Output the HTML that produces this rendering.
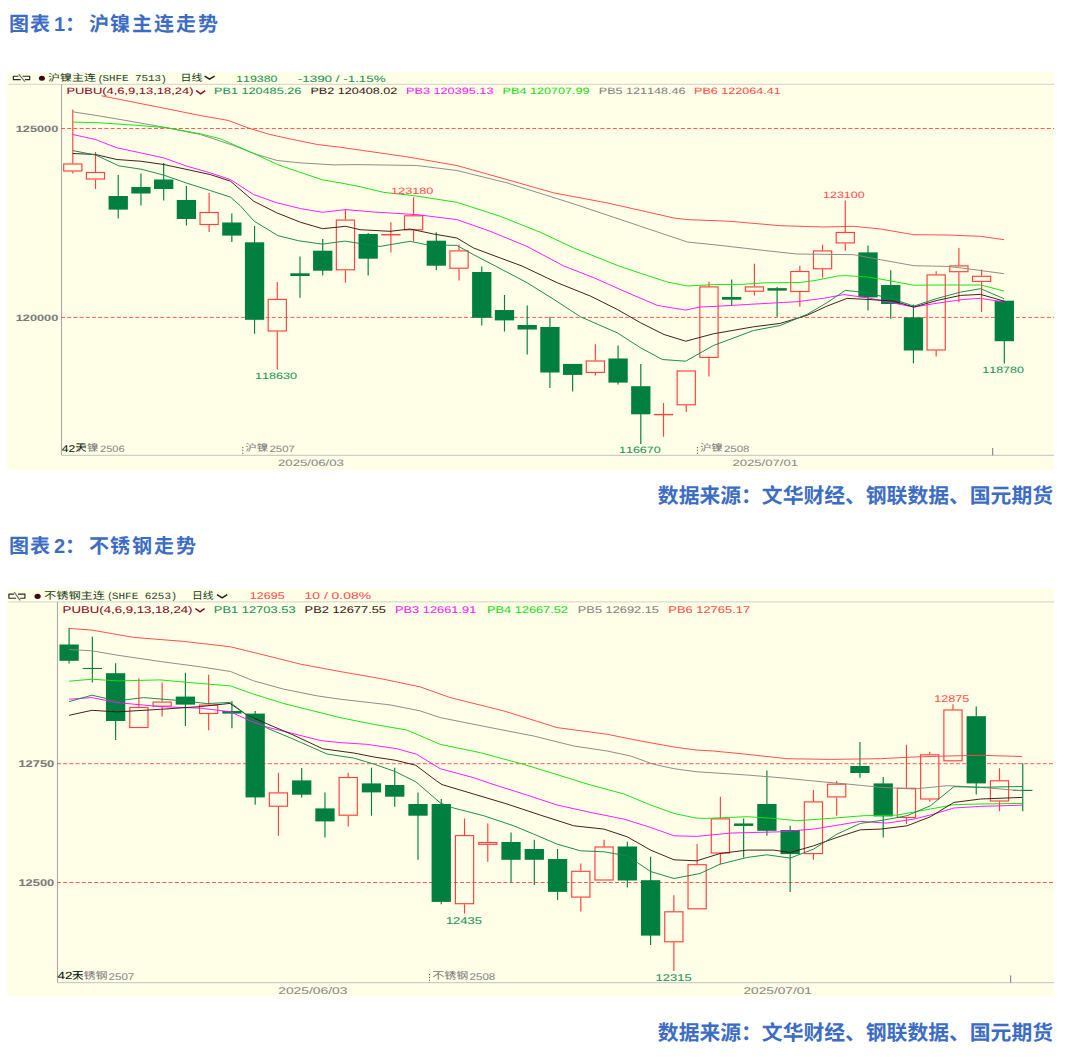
<!DOCTYPE html>
<html lang="zh-CN">
<head>
<meta charset="utf-8">
<title>图表：沪镍主连走势 / 不锈钢走势</title>
<style>
html,body{margin:0;padding:0;background:#ffffff;}
body{width:1066px;height:1060px;position:relative;overflow:hidden;font-family:"Liberation Sans","Noto Sans CJK SC",sans-serif;}
figure{margin:0;padding:0;position:absolute;left:0;width:1066px;}
svg{position:absolute;left:0;display:block;overflow:visible;}
svg text{font-family:"Liberation Sans","Noto Sans CJK SC",sans-serif;white-space:pre;text-rendering:geometricPrecision;font-kerning:none;font-variant-ligatures:none;}
svg text.mono{font-family:"Liberation Mono","Noto Sans CJK SC",monospace;}
.sr{position:absolute;left:0;top:0;width:1px;height:1px;overflow:hidden;color:transparent;font-size:1px;line-height:1px;}
</style>
</head>
<body>

<figure id="fig1" style="top:0;height:530px">
<h3 class="sr">图表 1：沪镍主连走势</h3>
<svg class="title" style="top:0" width="1066" height="66" viewBox="0 0 1066 66" role="img" aria-label="图表 1：沪镍主连走势">
<text y="31" font-size="20" font-weight="bold" fill="#3d6dc3"><tspan x="9">图</tspan><tspan x="30">表</tspan><tspan x="54">1</tspan><tspan x="65">：</tspan><tspan x="89">沪</tspan><tspan x="110">镍</tspan><tspan x="132">主</tspan><tspan x="154">连</tspan><tspan x="176">走</tspan><tspan x="198">势</tspan></text>
</svg>
<svg class="chart" style="top:66px" width="1066" height="410" viewBox="0 66 1066 410" role="img" aria-label="沪镍主连 日线">
<rect x="7" y="72.8" width="1047" height="397.2" fill="#fffee6"/>
<path stroke="#d2d2ce" stroke-width="1" d="M8.5,84.3 H1054"/>
<path stroke="#a9a9b0" stroke-width="1.1" fill="none" d="M61.5,84.3 V455.3"/>
<path stroke="#c2c2c2" stroke-width="1" fill="none" d="M61.5,455.3 H1054"/>
<path stroke="#ff4040" stroke-width="1" stroke-dasharray="4 2.2" stroke-opacity="0.85" fill="none" d="M61,128.5 H1054"/>
<text transform="translate(15.8 131.6) scale(1.3844 1)" font-size="9.2" fill="#7c7c7c" stroke="#7c7c7c" stroke-width="0.06" font-weight="bold">125000</text>
<path stroke="#ff4040" stroke-width="1" stroke-dasharray="4 2.2" stroke-opacity="0.85" fill="none" d="M61,317.4 H1054"/>
<text transform="translate(15.8 320.5) scale(1.3844 1)" font-size="9.2" fill="#7c7c7c" stroke="#7c7c7c" stroke-width="0.06" font-weight="bold">120000</text>
<path stroke="#ff4040" stroke-width="1.15" fill="none" d="M72.8,109.4 V163.5M72.8,171.5 V173.5"/>
<rect x="63.7" y="164" width="18.2" height="7" fill="none" stroke="#ff4040" stroke-width="1.15"/>
<path stroke="#ff4040" stroke-width="1.15" fill="none" d="M95.52,152 V172M95.52,179.5 V189"/>
<rect x="86.42" y="172.5" width="18.2" height="6.5" fill="none" stroke="#ff4040" stroke-width="1.15"/>
<path stroke="#007f3f" stroke-width="1.15" fill="none" d="M118.24,175 V218.6"/>
<rect x="108.59" y="196" width="19.3" height="13.6" fill="#007f3f"/>
<path stroke="#007f3f" stroke-width="1.15" fill="none" d="M140.96,173.5 V205.6"/>
<rect x="131.31" y="187" width="19.3" height="6.5" fill="#007f3f"/>
<path stroke="#007f3f" stroke-width="1.15" fill="none" d="M163.68,163 V200.5"/>
<rect x="154.03" y="179.5" width="19.3" height="9.5" fill="#007f3f"/>
<path stroke="#007f3f" stroke-width="1.15" fill="none" d="M186.4,186 V225.6"/>
<rect x="176.75" y="200" width="19.3" height="19" fill="#007f3f"/>
<path stroke="#ff4040" stroke-width="1.15" fill="none" d="M209.12,193 V212M209.12,225 V232"/>
<rect x="200.02" y="212.5" width="18.2" height="12" fill="none" stroke="#ff4040" stroke-width="1.15"/>
<path stroke="#007f3f" stroke-width="1.15" fill="none" d="M231.84,213.5 V242"/>
<rect x="222.19" y="222.5" width="19.3" height="13.1" fill="#007f3f"/>
<path stroke="#007f3f" stroke-width="1.15" fill="none" d="M254.56,226 V333.8"/>
<rect x="244.91" y="242.3" width="19.3" height="77.5" fill="#007f3f"/>
<path stroke="#ff4040" stroke-width="1.15" fill="none" d="M277.28,282 V298.9M277.28,331.5 V369.5"/>
<rect x="268.18" y="299.4" width="18.2" height="31.6" fill="none" stroke="#ff4040" stroke-width="1.15"/>
<path stroke="#007f3f" stroke-width="1.15" fill="none" d="M300,256.4 V297.7"/>
<rect x="290.35" y="273.3" width="19.3" height="2.7" fill="#007f3f"/>
<path stroke="#007f3f" stroke-width="1.15" fill="none" d="M322.72,239 V275.4"/>
<rect x="313.07" y="250.7" width="19.3" height="20" fill="#007f3f"/>
<path stroke="#ff4040" stroke-width="1.15" fill="none" d="M345.44,209 V219.6M345.44,270.3 V282.7"/>
<rect x="336.34" y="220.1" width="18.2" height="49.7" fill="none" stroke="#ff4040" stroke-width="1.15"/>
<path stroke="#007f3f" stroke-width="1.15" fill="none" d="M368.16,233 V275.4"/>
<rect x="358.51" y="234" width="19.3" height="24.7" fill="#007f3f"/>
<path stroke="#ff4040" stroke-width="1.15" fill="none" d="M390.88,222.3 V252.4"/>
<path stroke="#ff4040" stroke-width="1.4" fill="none" d="M381.23,234.7 H400.53"/>
<path stroke="#ff4040" stroke-width="1.15" fill="none" d="M413.6,197.3 V215.3M413.6,230.3 V241.3"/>
<rect x="404.5" y="215.8" width="18.2" height="14" fill="none" stroke="#ff4040" stroke-width="1.15"/>
<path stroke="#007f3f" stroke-width="1.15" fill="none" d="M436.32,232.3 V270"/>
<rect x="426.67" y="240.7" width="19.3" height="25" fill="#007f3f"/>
<path stroke="#ff4040" stroke-width="1.15" fill="none" d="M459.04,244.7 V250.4M459.04,268.7 V280.4"/>
<rect x="449.94" y="250.9" width="18.2" height="17.3" fill="none" stroke="#ff4040" stroke-width="1.15"/>
<path stroke="#007f3f" stroke-width="1.15" fill="none" d="M481.76,266.4 V325.5"/>
<rect x="472.11" y="272" width="19.3" height="45.8" fill="#007f3f"/>
<path stroke="#007f3f" stroke-width="1.15" fill="none" d="M504.48,295 V331.5"/>
<rect x="494.83" y="310" width="19.3" height="10.4" fill="#007f3f"/>
<path stroke="#007f3f" stroke-width="1.15" fill="none" d="M527.2,305.4 V354.5"/>
<rect x="517.55" y="325" width="19.3" height="4.5" fill="#007f3f"/>
<path stroke="#007f3f" stroke-width="1.15" fill="none" d="M549.92,316.8 V388"/>
<rect x="540.27" y="327" width="19.3" height="45.5" fill="#007f3f"/>
<path stroke="#007f3f" stroke-width="1.15" fill="none" d="M572.64,363.9 V391.6"/>
<rect x="562.99" y="363.9" width="19.3" height="11" fill="#007f3f"/>
<path stroke="#ff4040" stroke-width="1.15" fill="none" d="M595.36,344.2 V360.5M595.36,372.9 V375.6"/>
<rect x="586.26" y="361" width="18.2" height="11.4" fill="none" stroke="#ff4040" stroke-width="1.15"/>
<path stroke="#007f3f" stroke-width="1.15" fill="none" d="M618.08,345.5 V384.6"/>
<rect x="608.43" y="358.5" width="19.3" height="24.1" fill="#007f3f"/>
<path stroke="#007f3f" stroke-width="1.15" fill="none" d="M640.8,363.9 V444"/>
<rect x="631.15" y="386.2" width="19.3" height="28.1" fill="#007f3f"/>
<path stroke="#ff4040" stroke-width="1.15" fill="none" d="M663.52,403 V436.7"/>
<path stroke="#ff4040" stroke-width="1.4" fill="none" d="M653.87,414.6 H673.17"/>
<path stroke="#ff4040" stroke-width="1.15" fill="none" d="M686.24,405.3 V412"/>
<rect x="677.14" y="371" width="18.2" height="33.8" fill="none" stroke="#ff4040" stroke-width="1.15"/>
<path stroke="#ff4040" stroke-width="1.15" fill="none" d="M708.96,281.7 V286.4M708.96,357.9 V376.6"/>
<rect x="699.86" y="286.9" width="18.2" height="70.5" fill="none" stroke="#ff4040" stroke-width="1.15"/>
<path stroke="#007f3f" stroke-width="1.15" fill="none" d="M731.68,279.4 V305.4"/>
<rect x="722.03" y="297" width="19.3" height="2.7" fill="#007f3f"/>
<path stroke="#ff4040" stroke-width="1.15" fill="none" d="M754.4,263.7 V286.4M754.4,291.7 V295.4"/>
<rect x="745.3" y="286.9" width="18.2" height="4.3" fill="none" stroke="#ff4040" stroke-width="1.15"/>
<path stroke="#007f3f" stroke-width="1.15" fill="none" d="M777.12,287 V316.8"/>
<path stroke="#007f3f" stroke-width="2.5" fill="none" d="M767.47,289.4 H786.77"/>
<path stroke="#ff4040" stroke-width="1.15" fill="none" d="M799.84,265.7 V271M799.84,292 V306.7"/>
<rect x="790.74" y="271.5" width="18.2" height="20" fill="none" stroke="#ff4040" stroke-width="1.15"/>
<path stroke="#ff4040" stroke-width="1.15" fill="none" d="M822.56,244.7 V250.4M822.56,269.3 V277.7"/>
<rect x="813.46" y="250.9" width="18.2" height="17.9" fill="none" stroke="#ff4040" stroke-width="1.15"/>
<path stroke="#ff4040" stroke-width="1.15" fill="none" d="M845.28,200.6 V232M845.28,243.4 V250.7"/>
<rect x="836.18" y="232.5" width="18.2" height="10.4" fill="none" stroke="#ff4040" stroke-width="1.15"/>
<path stroke="#007f3f" stroke-width="1.15" fill="none" d="M868,245.4 V310.4"/>
<rect x="858.35" y="252.4" width="19.3" height="45" fill="#007f3f"/>
<path stroke="#007f3f" stroke-width="1.15" fill="none" d="M890.72,270.3 V318.8"/>
<rect x="881.07" y="285" width="19.3" height="19" fill="#007f3f"/>
<path stroke="#007f3f" stroke-width="1.15" fill="none" d="M913.44,304.5 V363.4"/>
<rect x="903.79" y="317.4" width="19.3" height="33.1" fill="#007f3f"/>
<path stroke="#ff4040" stroke-width="1.15" fill="none" d="M936.16,271.3 V274.4M936.16,350.5 V356.6"/>
<rect x="927.06" y="274.9" width="18.2" height="75.1" fill="none" stroke="#ff4040" stroke-width="1.15"/>
<path stroke="#ff4040" stroke-width="1.15" fill="none" d="M958.88,248 V265.4M958.88,272.2 V302.3"/>
<rect x="949.78" y="265.9" width="18.2" height="5.8" fill="none" stroke="#ff4040" stroke-width="1.15"/>
<path stroke="#ff4040" stroke-width="1.15" fill="none" d="M981.6,269.4 V275.8M981.6,281.9 V312"/>
<rect x="972.5" y="276.3" width="18.2" height="5.1" fill="none" stroke="#ff4040" stroke-width="1.15"/>
<path stroke="#007f3f" stroke-width="1.15" fill="none" d="M1004.32,300.7 V363.4"/>
<rect x="994.67" y="300.7" width="19.3" height="40.5" fill="#007f3f"/>
<polyline fill="none" stroke="#ff4646" stroke-width="0.95" stroke-linejoin="round" points="101.6,95.8 132.2,101.9 166,108.6 198.1,115.1 228.5,120.5 248.7,128.1 270,134.5 283.9,137.6 317.3,144.5 340,147.2 406.8,156.8 456.9,165.5 507,179.6 553.8,192.9 607.2,202.9 674,218 687.4,219.6 730.1,221.3 780.2,225.7 823.6,227 853.7,226.3 880.4,229 913.8,234.7 947.2,235 980.6,236.3 1004,239.7"/>
<polyline fill="none" stroke="#888888" stroke-width="0.95" stroke-linejoin="round" points="72.8,111.8 100.2,116.1 133.6,121.8 167,127.8 200.4,134.5 233.8,145.5 253.8,153.5 277.2,160.5 300.6,162.9 334,164.9 356,164.6 416.8,165.5 456.9,170.5 507,182.9 573.8,203.9 640.6,226.3 687.4,242 720.1,245.4 763.5,250.4 796.9,254 853.7,254.7 880.4,259.7 913.8,265.7 947.2,266.4 967.2,268.7 1004,273.7"/>
<polyline fill="none" stroke="#10e010" stroke-width="0.95" stroke-linejoin="round" points="72.8,122.1 100.2,122.8 133.6,125.1 167,127.8 200.4,133.8 220.4,138.8 253.8,153.5 277.8,164.7 298.8,171.9 322.4,179.8 344.8,183.7 360,186.7 383.4,192.3 413.5,195.6 456.9,202.3 500.3,216.3 540.4,232.3 573.8,248 618.9,266 640.6,273.3 667.3,282 687.4,286 713.4,284.6 743,284.3 766,282.8 800,282.5 815,280.5 837.5,276 845.3,275.6 867,277 878.8,278.8 913.8,285.2 947.2,285 980.6,285 1004,291"/>
<polyline fill="none" stroke="#ff10ff" stroke-width="0.95" stroke-linejoin="round" points="72.8,134.5 95.5,139.5 116.9,147.8 140.3,152.8 163.7,157.9 187,166.2 210.4,172.9 230.5,179.6 253.8,194.6 277.2,202.9 300.6,208.6 322.6,212.3 345.7,209.6 373.4,212 416.8,214.6 456.9,219.6 490.3,231.3 527,246.4 563.8,266 593.8,277.7 623.9,291.1 657.3,305.4 685.7,310.1 700,307 715,306.4 746.8,304.5 796.9,301.7 823.6,298.3 843.7,294.6 867,297.7 913.8,307.1 933.8,303.7 963.9,299.4 980.6,298.4 1004,302.1"/>
<polyline fill="none" stroke="#3a1418" stroke-width="0.95" stroke-linejoin="round" points="72.8,153.5 95.5,154.5 116.9,159.5 140.3,161.2 163.7,164.5 187,169.5 210.4,174.6 230.5,181.2 253.8,201.3 277.2,213 300.6,222.3 322.6,228.7 345.7,226.3 360,229.7 390.1,231.3 410.1,229 433.5,234 456.9,238 473.6,248 500.3,258 522,266 557.1,282.7 590.5,296.1 617.2,309.4 640.6,322.8 664,334.5 685.7,341.2 713.4,333.8 753.5,326.8 780.2,323.4 806.9,315.4 827,306.1 847,298.4 867,299.4 893.8,301.1 913.8,307.1 937.2,300.4 960.6,295.4 980.6,294.4 1004,301.1"/>
<polyline fill="none" stroke="#12864f" stroke-width="0.95" stroke-linejoin="round" points="72.8,150.6 95.5,155 119.1,165.9 141,169.2 163.8,175.1 186.6,183.1 209.4,190.3 230.5,197.1 240,205.5 254.1,221.1 277.8,235.6 298.8,240.8 322.4,244.1 344.8,241.1 360,243.5 380.1,246.4 410.1,241.3 426.8,244.7 456.9,245.4 473.6,254.7 495.3,266 527,282.7 553.8,299.4 580.5,316.8 617.2,332.8 640.6,347.8 662.3,359.5 685.7,361.2 713.4,345.5 753.5,330.5 780.2,325.5 806.9,314.4 827,302.7 845.3,290.4 867,292.7 893.8,299.4 913.8,306.1 937.2,298.4 960.6,292.1 980.6,288.7 1004,298.7"/>
<path fill="none" stroke="#262626" stroke-width="1.15" stroke-linejoin="round" d="M18.5,76.2 H13.35 V79.65 H20.71 M22.59,76.2 H29.7 V79.65 H24.88"/><path fill="none" stroke="#6a6a6a" stroke-width="1.15" d="M18.75,74.2 L24.88,81.75"/>
<ellipse cx="41.9" cy="78.2" rx="3" ry="2.5" fill="#3c0712"/>
<text transform="translate(48 81.2) scale(1.26 1)" font-size="9.5" fill="#163a1a">沪镍主连</text>
<text transform="translate(98.8 81.5) scale(1.0115 1)" font-size="9.5" fill="#1a3a22" stroke="#1a3a22" stroke-width="0.06">(</text>
<text transform="translate(102.6 81.3) scale(1.2015 1)" font-size="9" fill="#2c4a34" stroke="#2c4a34" stroke-width="0.06" class="mono">SHFE 7513</text>
<text transform="translate(162.2 81.5) scale(1.0747 1)" font-size="9.5" fill="#1a3a22" stroke="#1a3a22" stroke-width="0.06">)</text>
<text transform="translate(180.5 81.2) scale(1.15 1)" font-size="9.5" fill="#163a1a">日线</text>
<polyline fill="none" stroke="#1c1c1c" stroke-width="1.5" points="204.6,76.2 209.6,79.2 214.6,76.2"/>
<text transform="translate(236.1 81.7) scale(1.3486 1)" font-size="9.2" fill="#23935a" stroke="#23935a" stroke-width="0.06">119380</text>
<text transform="translate(297.8 81.7) scale(1.4582 1)" font-size="9.2" fill="#23935a" stroke="#23935a" stroke-width="0.06">-1390 / -1.15%</text>
<text transform="translate(66.4 94.2) scale(1.4053 1)" font-size="9.2" fill="#8a0a2a" stroke="#8a0a2a" stroke-width="0.06">PUBU(4,6,9,13,18,24)</text>
<polyline fill="none" stroke="#8a0a2a" stroke-width="1.5" points="196.2,90.7 200.7,93.8 205.2,90.7"/>
<text transform="translate(214 94.2) scale(1.3778 1)" font-size="9.2" fill="#23935a" stroke="#23935a" stroke-width="0.06">PB1 120485.26</text>
<text transform="translate(310.4 94.2) scale(1.3731 1)" font-size="9.2" fill="#3a1a22" stroke="#3a1a22" stroke-width="0.06">PB2 120408.02</text>
<text transform="translate(406 94.2) scale(1.3810 1)" font-size="9.2" fill="#f51cf5" stroke="#f51cf5" stroke-width="0.06">PB3 120395.13</text>
<text transform="translate(502.6 94.2) scale(1.3699 1)" font-size="9.2" fill="#22dd22" stroke="#22dd22" stroke-width="0.06">PB4 120707.99</text>
<text transform="translate(598.8 94.2) scale(1.3699 1)" font-size="9.2" fill="#848484" stroke="#848484" stroke-width="0.06">PB5 121148.46</text>
<text transform="translate(694 94.2) scale(1.3683 1)" font-size="9.2" fill="#ff5050" stroke="#ff5050" stroke-width="0.06">PB6 122064.41</text>
<text transform="translate(254.9 378.9) scale(1.3746 1)" font-size="9.2" fill="#23935a" stroke="#23935a" stroke-width="0.06">118630</text>
<text transform="translate(391 194.2) scale(1.3844 1)" font-size="9.2" fill="#ff5050" stroke="#ff5050" stroke-width="0.06">123180</text>
<text transform="translate(619 453.2) scale(1.3583 1)" font-size="9.2" fill="#23935a" stroke="#23935a" stroke-width="0.06">116670</text>
<text transform="translate(823 197.5) scale(1.3583 1)" font-size="9.2" fill="#ff5050" stroke="#ff5050" stroke-width="0.06">123100</text>
<text transform="translate(982.3 373.1) scale(1.3583 1)" font-size="9.2" fill="#23935a" stroke="#23935a" stroke-width="0.06">118780</text>
<text transform="translate(75.5 451.3) scale(1.2 1)" font-size="9.5" fill="#787878">沪镍</text>
<text transform="translate(100 451.6) scale(1.2069 1)" font-size="9.2" fill="#8a8a8a" stroke="#8a8a8a" stroke-width="0.06">2506</text>
<text transform="translate(61.8 451.6) scale(1.2293 1)" font-size="9.8" fill="#0a1a0a" stroke="#0a1a0a" stroke-width="0.06">42</text>
<text transform="translate(75.3 451.3) scale(1.15 1)" font-size="9.8" fill="#0a1a0a">天</text>
<path stroke="#555" stroke-width="1" stroke-dasharray="1.2 1.6" d="M242.8,447 V455.3"/>
<text transform="translate(245.3 451.3) scale(1.2 1)" font-size="9.5" fill="#787878">沪镍</text>
<text transform="translate(269.5 451.6) scale(1.2459 1)" font-size="9.2" fill="#8a8a8a" stroke="#8a8a8a" stroke-width="0.06">2507</text>
<path stroke="#555" stroke-width="1" stroke-dasharray="1.2 1.6" d="M697.4,447 V455.3"/>
<text transform="translate(699.9 451.3) scale(1.2 1)" font-size="9.5" fill="#787878">沪镍</text>
<text transform="translate(724 451.6) scale(1.2459 1)" font-size="9.2" fill="#8a8a8a" stroke="#8a8a8a" stroke-width="0.06">2508</text>
<text transform="translate(278 465.6) scale(1.4334 1)" font-size="9.2" fill="#8a8a8a" stroke="#8a8a8a" stroke-width="0.06">2025/06/03</text>
<text transform="translate(732.4 465.6) scale(1.4290 1)" font-size="9.2" fill="#8a8a8a" stroke="#8a8a8a" stroke-width="0.06">2025/07/01</text>
<path stroke="#777" stroke-width="1" d="M992.7,448 V455.3"/>
</svg>
<figcaption class="sr">数据来源：文华财经、钢联数据、国元期货</figcaption>
<svg class="source" style="top:476px" width="1066" height="50" viewBox="0 476 1066 50" role="img" aria-label="数据来源：文华财经、钢联数据、国元期货">
<text x="1053" y="503.2" text-anchor="end" font-size="20.8" font-weight="bold" fill="#3d6dc3">数据来源：文华财经、钢联数据、国元期货</text>
</svg>
</figure>
<figure id="fig2" style="top:526px;height:534px">
<h3 class="sr">图表 2：不锈钢走势</h3>
<svg class="title" style="top:0" width="1066" height="56" viewBox="0 526 1066 56" role="img" aria-label="图表 2：不锈钢走势">
<text y="553" font-size="20" font-weight="bold" fill="#3d6dc3"><tspan x="9">图</tspan><tspan x="30">表</tspan><tspan x="54">2</tspan><tspan x="65">：</tspan><tspan x="89">不</tspan><tspan x="110">锈</tspan><tspan x="132">钢</tspan><tspan x="154">走</tspan><tspan x="176">势</tspan></text>
</svg>
<svg class="chart" style="top:56px" width="1066" height="420" viewBox="0 582 1066 420" role="img" aria-label="不锈钢主连 日线">
<rect x="7" y="588.6" width="1047" height="407.4" fill="#fffee6"/>
<path stroke="#d2d2ce" stroke-width="1" d="M8.5,601.9 H1054"/>
<path stroke="#a9a9b0" stroke-width="1.1" fill="none" d="M57.5,601.9 V982.7"/>
<path stroke="#c2c2c2" stroke-width="1" fill="none" d="M57.5,982.7 H1054"/>
<path stroke="#ff4040" stroke-width="1" stroke-dasharray="4 2.2" stroke-opacity="0.85" fill="none" d="M57,763.7 H1054"/>
<text transform="translate(18.4 766.8) scale(1.3174 1)" font-size="9.8" fill="#7c7c7c" stroke="#7c7c7c" stroke-width="0.06" font-weight="bold">12750</text>
<path stroke="#ff4040" stroke-width="1" stroke-dasharray="4 2.2" stroke-opacity="0.85" fill="none" d="M57,882.5 H1054"/>
<text transform="translate(18.4 885.6) scale(1.3174 1)" font-size="9.8" fill="#7c7c7c" stroke="#7c7c7c" stroke-width="0.06" font-weight="bold">12500</text>
<path stroke="#007f3f" stroke-width="1.15" fill="none" d="M69.1,628 V663.5"/>
<rect x="59.45" y="644.5" width="19.3" height="16.3" fill="#007f3f"/>
<path stroke="#007f3f" stroke-width="1.15" fill="none" d="M92.36,636.8 V682.5"/>
<path stroke="#007f3f" stroke-width="1.1" fill="none" d="M82.71,668.5 H102.01"/>
<path stroke="#007f3f" stroke-width="1.15" fill="none" d="M115.62,663.2 V740"/>
<rect x="105.97" y="673.2" width="19.3" height="47.8" fill="#007f3f"/>
<path stroke="#ff4040" stroke-width="1.15" fill="none" d="M138.88,678.2 V707"/>
<rect x="129.78" y="707.5" width="18.2" height="20" fill="none" stroke="#ff4040" stroke-width="1.15"/>
<path stroke="#ff4040" stroke-width="1.15" fill="none" d="M162.14,682.5 V701.6M162.14,706.6 V716.6"/>
<rect x="153.04" y="702.1" width="18.2" height="4" fill="none" stroke="#ff4040" stroke-width="1.15"/>
<path stroke="#007f3f" stroke-width="1.15" fill="none" d="M185.4,672.8 V726"/>
<rect x="175.75" y="696.6" width="19.3" height="8" fill="#007f3f"/>
<path stroke="#ff4040" stroke-width="1.15" fill="none" d="M208.66,674.8 V704.6M208.66,714 V730.3"/>
<rect x="199.56" y="705.1" width="18.2" height="8.4" fill="none" stroke="#ff4040" stroke-width="1.15"/>
<path stroke="#007f3f" stroke-width="1.15" fill="none" d="M231.92,701 V728.3"/>
<rect x="222.27" y="711" width="19.3" height="2.6" fill="#007f3f"/>
<path stroke="#007f3f" stroke-width="1.15" fill="none" d="M255.18,711 V804.7"/>
<rect x="245.53" y="713.6" width="19.3" height="83.8" fill="#007f3f"/>
<path stroke="#ff4040" stroke-width="1.15" fill="none" d="M278.44,772.7 V792.4M278.44,806.7 V835.8"/>
<rect x="269.34" y="792.9" width="18.2" height="13.3" fill="none" stroke="#ff4040" stroke-width="1.15"/>
<path stroke="#007f3f" stroke-width="1.15" fill="none" d="M301.7,768 V797.4"/>
<rect x="292.05" y="780.4" width="19.3" height="14.3" fill="#007f3f"/>
<path stroke="#007f3f" stroke-width="1.15" fill="none" d="M324.96,792.4 V837.4"/>
<rect x="315.31" y="808.4" width="19.3" height="13" fill="#007f3f"/>
<path stroke="#ff4040" stroke-width="1.15" fill="none" d="M348.22,772.7 V777M348.22,815.7 V826.4"/>
<rect x="339.12" y="777.5" width="18.2" height="37.7" fill="none" stroke="#ff4040" stroke-width="1.15"/>
<path stroke="#007f3f" stroke-width="1.15" fill="none" d="M371.48,767.7 V815.7"/>
<rect x="361.83" y="783.4" width="19.3" height="9" fill="#007f3f"/>
<path stroke="#007f3f" stroke-width="1.15" fill="none" d="M394.74,767.7 V806.7"/>
<rect x="385.09" y="785" width="19.3" height="11.7" fill="#007f3f"/>
<path stroke="#007f3f" stroke-width="1.15" fill="none" d="M418,792.4 V859.8"/>
<rect x="408.35" y="804" width="19.3" height="11.7" fill="#007f3f"/>
<path stroke="#007f3f" stroke-width="1.15" fill="none" d="M441.26,799 V904.2"/>
<rect x="431.61" y="804" width="19.3" height="97.9" fill="#007f3f"/>
<path stroke="#ff4040" stroke-width="1.15" fill="none" d="M464.52,818.4 V835.1M464.52,904.2 V913.6"/>
<rect x="455.42" y="835.6" width="18.2" height="68.1" fill="none" stroke="#ff4040" stroke-width="1.15"/>
<path stroke="#ff4040" stroke-width="1.15" fill="none" d="M487.78,823.4 V842M487.78,844.8 V861.8"/>
<rect x="478.68" y="842.5" width="18.2" height="1.8" fill="none" stroke="#ff4040" stroke-width="1.15"/>
<path stroke="#007f3f" stroke-width="1.15" fill="none" d="M511.04,832.4 V882.5"/>
<rect x="501.39" y="842" width="19.3" height="17.8" fill="#007f3f"/>
<path stroke="#007f3f" stroke-width="1.15" fill="none" d="M534.3,839.8 V884.9"/>
<rect x="524.65" y="849" width="19.3" height="10.8" fill="#007f3f"/>
<path stroke="#007f3f" stroke-width="1.15" fill="none" d="M557.56,849 V899.9"/>
<rect x="547.91" y="859" width="19.3" height="32.9" fill="#007f3f"/>
<path stroke="#ff4040" stroke-width="1.15" fill="none" d="M580.82,863.5 V870.8M580.82,897.6 V911.6"/>
<rect x="571.72" y="871.3" width="18.2" height="25.8" fill="none" stroke="#ff4040" stroke-width="1.15"/>
<path stroke="#ff4040" stroke-width="1.15" fill="none" d="M604.08,839.8 V846.5"/>
<rect x="594.98" y="847" width="18.2" height="33" fill="none" stroke="#ff4040" stroke-width="1.15"/>
<path stroke="#007f3f" stroke-width="1.15" fill="none" d="M627.34,841.8 V887.5"/>
<rect x="617.69" y="846.5" width="19.3" height="34" fill="#007f3f"/>
<path stroke="#007f3f" stroke-width="1.15" fill="none" d="M650.6,856.8 V945"/>
<rect x="640.95" y="880.2" width="19.3" height="55.4" fill="#007f3f"/>
<path stroke="#ff4040" stroke-width="1.15" fill="none" d="M673.86,895.2 V911.3M673.86,942.3 V971"/>
<rect x="664.76" y="911.8" width="18.2" height="30" fill="none" stroke="#ff4040" stroke-width="1.15"/>
<path stroke="#ff4040" stroke-width="1.15" fill="none" d="M697.12,844.1 V864.2"/>
<rect x="688.02" y="864.7" width="18.2" height="44.1" fill="none" stroke="#ff4040" stroke-width="1.15"/>
<path stroke="#ff4040" stroke-width="1.15" fill="none" d="M720.38,796.7 V818.4M720.38,853.5 V864.2"/>
<rect x="711.28" y="818.9" width="18.2" height="34.1" fill="none" stroke="#ff4040" stroke-width="1.15"/>
<path stroke="#007f3f" stroke-width="1.15" fill="none" d="M743.64,818.4 V857.5"/>
<path stroke="#007f3f" stroke-width="2.5" fill="none" d="M733.99,824.7 H753.29"/>
<path stroke="#007f3f" stroke-width="1.15" fill="none" d="M766.9,770.4 V835.8"/>
<rect x="757.25" y="804" width="19.3" height="26.8" fill="#007f3f"/>
<path stroke="#007f3f" stroke-width="1.15" fill="none" d="M790.16,825.8 V891.9"/>
<rect x="780.51" y="830" width="19.3" height="24.1" fill="#007f3f"/>
<path stroke="#ff4040" stroke-width="1.15" fill="none" d="M813.42,790 V801.4M813.42,854.1 V859.8"/>
<rect x="804.32" y="801.9" width="18.2" height="51.7" fill="none" stroke="#ff4040" stroke-width="1.15"/>
<path stroke="#ff4040" stroke-width="1.15" fill="none" d="M836.68,781 V783.7M836.68,797.4 V815.7"/>
<rect x="827.58" y="784.2" width="18.2" height="12.7" fill="none" stroke="#ff4040" stroke-width="1.15"/>
<path stroke="#007f3f" stroke-width="1.15" fill="none" d="M859.94,742 V777.7"/>
<rect x="850.29" y="766" width="19.3" height="7" fill="#007f3f"/>
<path stroke="#007f3f" stroke-width="1.15" fill="none" d="M883.2,777 V837.4"/>
<rect x="873.55" y="783.4" width="19.3" height="33" fill="#007f3f"/>
<path stroke="#ff4040" stroke-width="1.15" fill="none" d="M906.46,744.8 V787.8M906.46,818 V824"/>
<rect x="897.36" y="788.3" width="18.2" height="29.2" fill="none" stroke="#ff4040" stroke-width="1.15"/>
<path stroke="#ff4040" stroke-width="1.15" fill="none" d="M929.72,751.8 V754.3M929.72,799.5 V801.8"/>
<rect x="920.62" y="754.8" width="18.2" height="44.2" fill="none" stroke="#ff4040" stroke-width="1.15"/>
<path stroke="#ff4040" stroke-width="1.15" fill="none" d="M952.98,704.3 V709.5"/>
<rect x="943.88" y="710" width="18.2" height="50.8" fill="none" stroke="#ff4040" stroke-width="1.15"/>
<path stroke="#007f3f" stroke-width="1.15" fill="none" d="M976.24,706.4 V794.6"/>
<rect x="966.59" y="716.2" width="19.3" height="67.2" fill="#007f3f"/>
<path stroke="#ff4040" stroke-width="1.15" fill="none" d="M999.5,768.3 V780.3M999.5,801.5 V811.2"/>
<rect x="990.4" y="780.8" width="18.2" height="20.2" fill="none" stroke="#ff4040" stroke-width="1.15"/>
<path stroke="#007f3f" stroke-width="1.15" fill="none" d="M1022.76,763.2 V811.2"/>
<path stroke="#007f3f" stroke-width="1.1" fill="none" d="M1013.11,790.4 H1032.41"/>
<polyline fill="none" stroke="#ff4646" stroke-width="0.95" stroke-linejoin="round" points="69.1,628.4 91.9,630.1 133.6,637.4 183.7,641.4 230.5,646.8 267.2,655.8 300.6,664.2 340,671.5 380.1,678.5 420.2,686.9 450.2,697.6 503.7,710.9 557.1,727.6 607.2,734.3 640.6,741 674,747 696,750 713.4,751 746.8,754.3 786.9,758.7 830.3,759.4 880.4,758.7 913.8,757 947.2,756 980.6,755.3 1022,756.5"/>
<polyline fill="none" stroke="#888888" stroke-width="0.95" stroke-linejoin="round" points="69.1,649.5 91.9,650.8 116.9,655.1 160.3,661.5 200.4,666.8 230.5,671.5 253.8,680.9 283.9,689.2 317.3,695.9 340,699.2 390.1,704.9 420.2,710.9 440.2,717.6 490.3,727.6 533.7,736 573.8,746 607.2,751 630.6,756 654,764.4 674,768.7 696,771.7 746.8,775 780.2,777.7 813.6,781 847,784 880.4,787.3 913.8,789 947.2,785.7 980.6,787.3 1022,790.8"/>
<polyline fill="none" stroke="#10e010" stroke-width="0.95" stroke-linejoin="round" points="69.1,681.2 91.9,679.2 116.9,680.9 160.3,679.9 200.4,683.5 230.5,685.9 253.8,694.2 283.9,703.6 317.3,711.9 340,717.6 373.4,724.3 406.8,730 440.2,744.3 480.3,752.7 523.7,764.4 567.1,777.7 587.2,784 623.9,794 650.6,805 674,813.4 696,818.1 706.7,818.4 746.8,816.7 773.5,818.4 796.9,820.7 830.3,818.4 863.7,815.7 897.1,815.1 930.5,809 953.9,804.7 980.6,804 1022,803.4"/>
<polyline fill="none" stroke="#ff10ff" stroke-width="0.95" stroke-linejoin="round" points="69.1,699.2 91.9,697.6 116.9,702.6 160.3,706.6 200.4,708.2 230,711.7 250.6,721 267.2,727.2 291.9,733.3 320.8,740.6 340,742.6 366.7,744.3 396.8,748.7 416.8,754.3 440.2,768.7 473.6,777.7 492,784 523.7,794 557.1,805 590.5,812.4 623.9,819.1 650.6,827.4 674,835.8 696.7,836.4 730.1,833.1 780.2,831.8 813.6,829.1 840.3,824.7 860.4,821.4 887.1,823.1 913.8,819.1 933.8,814.1 953.9,808 980.6,806.4 1022,805.2"/>
<polyline fill="none" stroke="#3a1418" stroke-width="0.95" stroke-linejoin="round" points="69.1,715.3 91.9,710.3 116.9,711.9 160.3,709.3 200.4,706.6 230,703.4 246.5,714.8 265.1,723 291.9,734.4 322.9,748.8 353.8,753 374.5,757.1 395.1,760.2 415.8,765.3 436.4,780.8 442,784.6 473.6,794 507,804 540.4,815.1 573.8,825.8 603.9,829.1 627.2,836.8 650.6,850.1 674,859.8 696.7,860.8 720.1,853.5 746.8,850.1 773.5,850.1 790.2,852.5 813.6,845.8 837,837.4 860.4,829.8 880.4,829.1 907.1,825.8 930.5,816.7 953.9,802.4 980.6,799 1022,797.4"/>
<polyline fill="none" stroke="#12864f" stroke-width="0.95" stroke-linejoin="round" points="69.1,701.6 91.9,695.2 116.9,700.9 143.6,697.6 183.7,700.9 207.1,703.6 230,702.4 246.5,714.8 267.2,728.2 291.9,738.5 327,754 353.8,758.1 374.5,764.3 395.1,771.5 415.8,781.8 440.5,803.1 453.6,808 483.6,815.7 513.7,825.8 533.7,834.1 557.1,844.1 580.5,850.8 603.9,851.8 627.2,855.8 650.6,871.5 674,878.5 700,873.5 720.1,864.2 746.8,857.5 766.8,854.8 790.2,858.1 813.6,849.1 837,834.1 860.4,823.4 883.7,820.1 907.1,815.7 930.5,805.7 953.9,786.7 980.6,787.3 1022,786.5"/>
<path fill="none" stroke="#262626" stroke-width="1.15" stroke-linejoin="round" d="M13.94,594.1 H8.9 V598.2 H16.1 M17.94,594.1 H24.9 V598.2 H20.18"/><path fill="none" stroke="#6a6a6a" stroke-width="1.15" d="M14.18,592.1 L20.18,600.3"/>
<ellipse cx="37.6" cy="596.3" rx="3.1" ry="2.6" fill="#3c0712"/>
<text transform="translate(44 599) scale(1.22 1)" font-size="10" fill="#163a1a">不锈钢主连</text>
<text transform="translate(108.2 599.1) scale(0.9609 1)" font-size="10" fill="#1a3a22" stroke="#1a3a22" stroke-width="0.06">(</text>
<text transform="translate(112 598.9) scale(1.1379 1)" font-size="9.6" fill="#2c4a34" stroke="#2c4a34" stroke-width="0.06" class="mono">SHFE 6253</text>
<text transform="translate(172.4 599.1) scale(1.0210 1)" font-size="10" fill="#1a3a22" stroke="#1a3a22" stroke-width="0.06">)</text>
<text transform="translate(192 599) scale(1.08 1)" font-size="10" fill="#163a1a">日线</text>
<polyline fill="none" stroke="#1c1c1c" stroke-width="1.5" points="217,594.6 222.1,597.8 227.2,594.6"/>
<text transform="translate(249.8 599.4) scale(1.2770 1)" font-size="9.8" fill="#ff5050" stroke="#ff5050" stroke-width="0.06">12695</text>
<text transform="translate(304.6 599.4) scale(1.4171 1)" font-size="9.8" fill="#ff5050" stroke="#ff5050" stroke-width="0.06">10 / 0.08%</text>
<text transform="translate(62.6 612.8) scale(1.3472 1)" font-size="9.8" fill="#8a0a2a" stroke="#8a0a2a" stroke-width="0.06">PUBU(4,6,9,13,18,24)</text>
<polyline fill="none" stroke="#8a0a2a" stroke-width="1.5" points="195.4,608.6 200,611.9 204.6,608.6"/>
<text transform="translate(213.8 612.8) scale(1.3168 1)" font-size="9.8" fill="#23935a" stroke="#23935a" stroke-width="0.06">PB1 12703.53</text>
<text transform="translate(304.6 612.8) scale(1.3103 1)" font-size="9.8" fill="#3a1a22" stroke="#3a1a22" stroke-width="0.06">PB2 12677.55</text>
<text transform="translate(395 612.8) scale(1.3087 1)" font-size="9.8" fill="#f51cf5" stroke="#f51cf5" stroke-width="0.06">PB3 12661.91</text>
<text transform="translate(487 612.8) scale(1.3039 1)" font-size="9.8" fill="#22dd22" stroke="#22dd22" stroke-width="0.06">PB4 12667.52</text>
<text transform="translate(577.8 612.8) scale(1.3071 1)" font-size="9.8" fill="#848484" stroke="#848484" stroke-width="0.06">PB5 12692.15</text>
<text transform="translate(668.3 612.8) scale(1.3168 1)" font-size="9.8" fill="#ff5050" stroke="#ff5050" stroke-width="0.06">PB6 12765.17</text>
<text transform="translate(445.9 923.7) scale(1.3247 1)" font-size="9.8" fill="#23935a" stroke="#23935a" stroke-width="0.06">12435</text>
<text transform="translate(655.6 981.2) scale(1.3210 1)" font-size="9.8" fill="#23935a" stroke="#23935a" stroke-width="0.06">12315</text>
<text transform="translate(934.3 702.2) scale(1.2807 1)" font-size="9.8" fill="#ff5050" stroke="#ff5050" stroke-width="0.06">12875</text>
<text transform="translate(71.5 979.4) scale(1.2 1)" font-size="10" fill="#787878">不锈钢</text>
<text transform="translate(108.6 979.6) scale(1.1788 1)" font-size="9.8" fill="#8a8a8a" stroke="#8a8a8a" stroke-width="0.06">2507</text>
<text transform="translate(57.5 979) scale(1.2880 1)" font-size="10.4" fill="#0a1a0a" stroke="#0a1a0a" stroke-width="0.06">42</text>
<text transform="translate(72.3 979.2) scale(1.1 1)" font-size="10.4" fill="#0a1a0a">天</text>
<path stroke="#555" stroke-width="1" stroke-dasharray="1.2 1.6" d="M429.5,974 V982.7"/>
<text transform="translate(432.3 979.4) scale(1.2 1)" font-size="10" fill="#787878">不锈钢</text>
<text transform="translate(469.6 979.6) scale(1.1788 1)" font-size="9.8" fill="#8a8a8a" stroke="#8a8a8a" stroke-width="0.06">2508</text>
<text transform="translate(278.2 994.2) scale(1.4109 1)" font-size="9.8" fill="#8a8a8a" stroke="#8a8a8a" stroke-width="0.06">2025/06/03</text>
<text transform="translate(743.5 994.2) scale(1.3966 1)" font-size="9.8" fill="#8a8a8a" stroke="#8a8a8a" stroke-width="0.06">2025/07/01</text>
<path stroke="#777" stroke-width="1" d="M1010.7,975.4 V982.7"/>
</svg>
<figcaption class="sr">数据来源：文华财经、钢联数据、国元期货</figcaption>
<svg class="source" style="top:476px" width="1066" height="58" viewBox="0 1002 1066 58" role="img" aria-label="数据来源：文华财经、钢联数据、国元期货">
<text x="1053" y="1040.4" text-anchor="end" font-size="20.8" font-weight="bold" fill="#3d6dc3">数据来源：文华财经、钢联数据、国元期货</text>
</svg>
</figure>
</body>
</html>
